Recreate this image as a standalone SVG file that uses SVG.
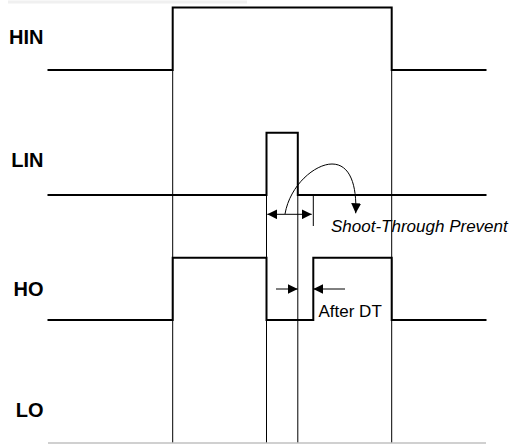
<svg xmlns="http://www.w3.org/2000/svg" width="514" height="444" viewBox="0 0 514 444">
  <style>
    .wave { fill: none; stroke: #000; stroke-width: 2; stroke-linejoin: miter; }
    .guide { fill: none; stroke: #000; stroke-width: 1; }
    .thin { fill: none; stroke: #000; stroke-width: 1; }
    .lbl { font-family: "Liberation Sans", Arial, sans-serif; font-weight: bold; font-size: 20px; fill: #000; text-anchor: end; }
    .note { font-family: "Liberation Sans", Arial, sans-serif; font-size: 17px; fill: #000; }
  </style>
  <defs>
    <marker id="ah" viewBox="0 0 10 10" refX="10" refY="5" markerWidth="10" markerHeight="10" markerUnits="userSpaceOnUse" orient="auto-start-reverse">
      <path d="M0,0 L10,5 L0,10 Z" fill="#000"/>
    </marker>
  </defs>
  <rect width="514" height="444" fill="#fff"/>
  <line x1="8" y1="2" x2="247" y2="2" stroke="#f0f0f0" stroke-width="3"/>

  <g id="guides">
    <line class="guide" x1="172.7" y1="70" x2="172.7" y2="443"/>
    <line class="guide" x1="391.7" y1="70" x2="391.7" y2="443"/>
    <line class="guide" x1="266.5" y1="195" x2="266.5" y2="443"/>
    <line class="guide" x1="297.8" y1="195" x2="297.8" y2="443"/>
    <line x1="48" y1="443" x2="486" y2="443" stroke="#c0c0c0" stroke-width="1.5"/>
  </g>

  <g id="HIN">
    <text class="lbl" x="43.5" y="44">HIN</text>
    <polyline class="wave" points="47.5,70 172.7,70 172.7,7.5 391.7,7.5 391.7,70 486.5,70"/>
  </g>

  <g id="LIN">
    <text class="lbl" x="43.5" y="166.5">LIN</text>
    <polyline class="wave" points="47.5,195 266.5,195 266.5,132.7 297.8,132.7 297.8,195 486.5,195"/>
  </g>

  <g id="HO">
    <text class="lbl" x="43.5" y="296">HO</text>
    <polyline class="wave" points="47.5,320 172.7,320 172.7,257.7 266.5,257.7 266.5,320 313.3,320 313.3,257.7 391.7,257.7 391.7,320 486.5,320"/>
  </g>

  <g id="LO">
    <text class="lbl" x="43.5" y="417">LO</text>
  </g>

  <g id="connectors">
    <line class="thin" x1="267.3" y1="214.3" x2="311.7" y2="214.3" marker-start="url(#ah)" marker-end="url(#ah)"/>
    <line class="thin" x1="313.3" y1="196" x2="313.3" y2="226"/>
    <path class="thin" d="M285,214 C290,185 315,164 332,164 C350,164 357,185 355.7,213.3" marker-end="url(#ah)"/>
    <line class="thin" x1="276" y1="289" x2="297.7" y2="289" marker-end="url(#ah)"/>
    <line class="thin" x1="345" y1="289" x2="313.3" y2="289" marker-end="url(#ah)"/>
  </g>

  <g id="labels">
    <text class="note" x="331" y="231.7" font-style="italic">Shoot-Through Prevent</text>
    <text class="note" x="318.5" y="316.7" font-size="18">After DT</text>
  </g>
</svg>
